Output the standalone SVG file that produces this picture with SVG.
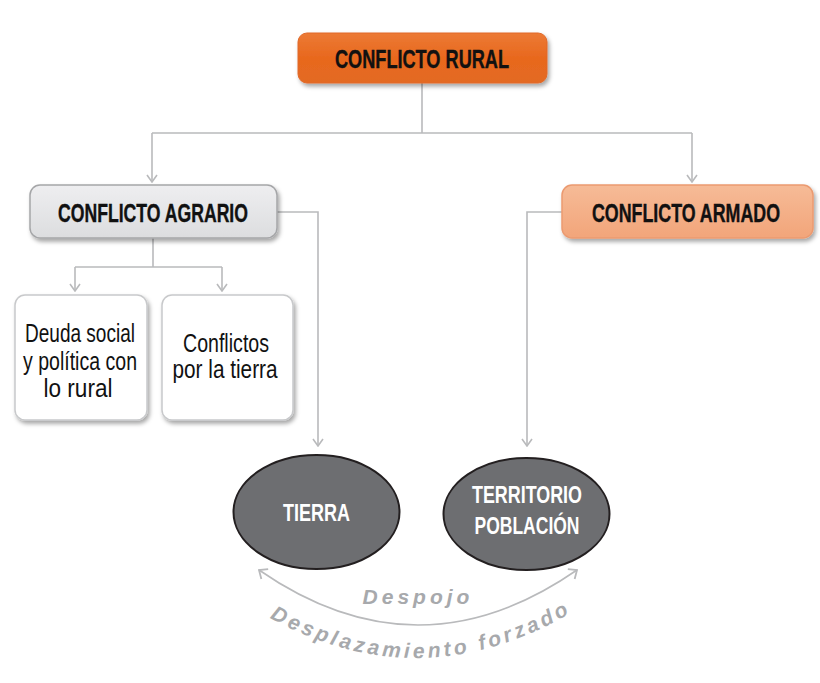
<svg xmlns="http://www.w3.org/2000/svg" width="820" height="683" viewBox="0 0 820 683">
<style>
.conn{fill:none;stroke:#b9babc;stroke-width:1.6}
.hdr{font-family:"Liberation Sans",Arial,sans-serif;font-weight:bold;font-size:26px;fill:#111;stroke:#111;stroke-width:0.4;text-anchor:middle}
.sm{font-family:"Liberation Sans",Arial,sans-serif;font-size:25px;fill:#111;text-anchor:middle}
.ell{fill:#6d6e71;stroke:#231f20;stroke-width:2}
.et{font-family:"Liberation Sans",Arial,sans-serif;font-weight:bold;font-size:24px;fill:#fff;text-anchor:middle}
.arc{font-family:"Liberation Sans",Arial,sans-serif;font-weight:bold;font-style:italic;font-size:21px;fill:#a7a9ac}
</style>
<defs>
<marker id="ah" viewBox="0 0 12 12" refX="11" refY="6" markerWidth="12" markerHeight="12" markerUnits="userSpaceOnUse" orient="auto-start-reverse">
<polyline points="4,1 11,6 4,11" fill="none" stroke="#b9babc" stroke-width="1.6"/>
</marker>
<marker id="ah2" viewBox="0 0 14 14" refX="13" refY="7" markerWidth="14" markerHeight="14" markerUnits="userSpaceOnUse" orient="auto-start-reverse">
<polyline points="6,1 13,7 6,13" fill="none" stroke="#b9babc" stroke-width="1.8"/>
</marker>
<filter id="sh" x="-10%" y="-20%" width="125%" height="150%">
<feDropShadow dx="2" dy="3" stdDeviation="2.2" flood-color="#000" flood-opacity="0.35"/>
</filter>
<filter id="blur"><feGaussianBlur stdDeviation="1.5"/></filter>
<linearGradient id="gOr" x1="0" y1="0" x2="0" y2="1">
<stop offset="0" stop-color="#ec7a35"/><stop offset="0.5" stop-color="#e8681e"/><stop offset="1" stop-color="#e36a22"/>
</linearGradient>
<linearGradient id="gGr" x1="0" y1="0" x2="0" y2="1">
<stop offset="0" stop-color="#eeeef0"/><stop offset="1" stop-color="#dcdddf"/>
</linearGradient>
<linearGradient id="gPe" x1="0" y1="0" x2="0" y2="1">
<stop offset="0" stop-color="#f6bb97"/><stop offset="1" stop-color="#f2a57a"/>
</linearGradient>
<path id="arcPath" d="M 258,611 Q 420,708 584,605"/>
</defs>

<line x1="10" y1="14" x2="820" y2="14" stroke="#d6d6d6" stroke-width="3" filter="url(#blur)"/>

<g id="connectors">
<path class="conn" d="M422,83 V133 M152,133 H692"/>
<path class="conn" d="M152,133 V182" marker-end="url(#ah)"/>
<path class="conn" d="M692,133 V182" marker-end="url(#ah)"/>
<path class="conn" d="M153,238 V267 M75,267 H222"/>
<path class="conn" d="M75,267 V291" marker-end="url(#ah)"/>
<path class="conn" d="M222,267 V291" marker-end="url(#ah)"/>
<path class="conn" d="M277,212 H318 V446" marker-end="url(#ah)"/>
<path class="conn" d="M562,212 H527 V446" marker-end="url(#ah)"/>
<path class="conn" d="M259,570 Q418,680 577,570" marker-start="url(#ah2)" marker-end="url(#ah2)"/>
</g>

<g id="conflicto-rural">
<rect x="298" y="33" width="249" height="50" rx="9" fill="url(#gOr)" stroke="#e0692a" stroke-width="1" filter="url(#sh)"/>
<text class="hdr" transform="translate(422,68) scale(0.7,1)" textLength="248.6" lengthAdjust="spacingAndGlyphs">CONFLICTO RURAL</text>
</g>

<g id="conflicto-agrario">
<rect x="30" y="185" width="247" height="53" rx="10" fill="url(#gGr)" stroke="#a5a6a8" stroke-width="1.5" filter="url(#sh)"/>
<text class="hdr" transform="translate(153,222) scale(0.7,1)" textLength="271.4" lengthAdjust="spacingAndGlyphs">CONFLICTO AGRARIO</text>
</g>

<g id="conflicto-armado">
<rect x="562" y="185" width="251" height="53" rx="10" fill="url(#gPe)" stroke="#eb9a70" stroke-width="1.5" filter="url(#sh)"/>
<text class="hdr" transform="translate(686,222) scale(0.7,1)" textLength="268.6" lengthAdjust="spacingAndGlyphs">CONFLICTO ARMADO</text>
</g>

<g id="deuda-social">
<rect x="15" y="295" width="132" height="125" rx="10" fill="#fff" stroke="#c8c9cb" stroke-width="1.5" filter="url(#sh)"/>
<text class="sm" transform="translate(80,342) scale(0.76,1)" textLength="144.7" lengthAdjust="spacingAndGlyphs">Deuda social</text>
<text class="sm" transform="translate(80,370) scale(0.76,1)" textLength="150" lengthAdjust="spacingAndGlyphs">y política con</text>
<text class="sm" transform="translate(78,397) scale(0.76,1)" textLength="90.8" lengthAdjust="spacingAndGlyphs">lo rural</text>
</g>

<g id="conflictos-tierra">
<rect x="162" y="295" width="131" height="125" rx="10" fill="#fff" stroke="#c8c9cb" stroke-width="1.5" filter="url(#sh)"/>
<text class="sm" transform="translate(226,352) scale(0.76,1)" textLength="113.2" lengthAdjust="spacingAndGlyphs">Conflictos</text>
<text class="sm" transform="translate(225,378) scale(0.76,1)" textLength="138.2" lengthAdjust="spacingAndGlyphs">por la tierra</text>
</g>

<g id="tierra">
<ellipse class="ell" cx="316.5" cy="512" rx="83" ry="57"/>
<text class="et" transform="translate(316.5,521) scale(0.75,1)" textLength="89.3" lengthAdjust="spacingAndGlyphs">TIERRA</text>
</g>

<g id="territorio-poblacion">
<ellipse class="ell" cx="526.5" cy="514" rx="83" ry="56"/>
<text class="et" transform="translate(527,503) scale(0.75,1)" textLength="146.7" lengthAdjust="spacingAndGlyphs">TERRITORIO</text>
<text class="et" transform="translate(527,534) scale(0.75,1)" textLength="140" lengthAdjust="spacingAndGlyphs">POBLACIÓN</text>
</g>

<g id="labels">
<text class="arc" x="418" y="604" text-anchor="middle" letter-spacing="4">Despojo</text>
<text class="arc" letter-spacing="3.5"><textPath href="#arcPath" startOffset="50%" text-anchor="middle">Desplazamiento forzado</textPath></text>
</g>
</svg>
